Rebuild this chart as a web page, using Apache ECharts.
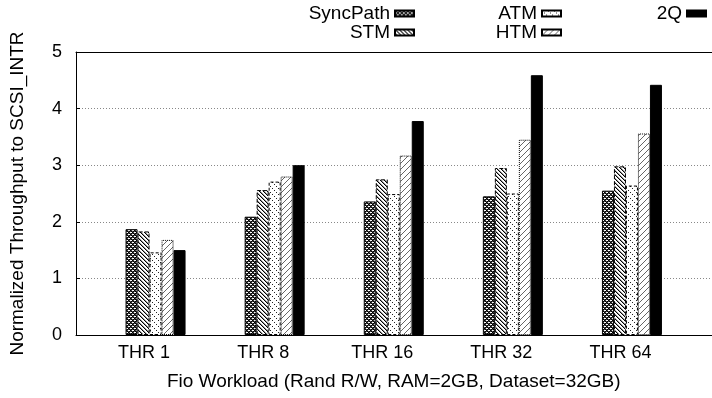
<!DOCTYPE html>
<html>
<head>
<meta charset="utf-8">
<script src="https://cdn.jsdelivr.net/npm/echarts@6/dist/echarts.min.js"></script>
<style>
  html, body { margin: 0; padding: 0; background: #fff; }
  #chart { width: 712px; height: 398px; }
</style>
</head>
<body>
<div id="chart"></div>
<script>
var categories = ['THR 1', 'THR 8', 'THR 16', 'THR 32', 'THR 64'];
var syncPath = [1.87, 2.09, 2.36, 2.45, 2.55];
var stm = [1.83, 2.56, 2.75, 2.95, 2.98];
var atm = [1.46, 2.71, 2.49, 2.50, 2.64];
var htm = [1.68, 2.80, 3.17, 3.45, 3.56];
var twoQ = [1.50, 3.00, 3.78, 4.59, 4.42];
var yTicks = [0, 1, 2, 3, 4, 5];

var FONT = '"Liberation Sans", Arial, sans-serif';

// small canvas tiles used as fill patterns
function makeTile(size, paint) {
    var c = document.createElement('canvas');
    c.width = size;
    c.height = size;
    var ctx = c.getContext('2d');
    ctx.fillStyle = '#fff';
    ctx.fillRect(0, 0, size, size);
    for (var x = 0; x < size; x++) {
        for (var y = 0; y < size; y++) {
            var col = paint(x, y);
            if (col) {
                ctx.fillStyle = col;
                ctx.fillRect(x, y, 1, 1);
            }
        }
    }
    return {image: c, repeat: 'repeat'};
}

var crossTile = makeTile(4, function (x, y) {
    var a = (x + y) % 4, b = (x - y + 4) % 4;
    return (a === 0 || b === 0) ? '#000' : ((a === 1 || b === 1) ? '#444' : null);
});
var backTile = makeTile(4, function (x, y) {
    var d = (x - y + 4) % 4;
    return d === 0 ? '#000' : (d === 1 ? '#999' : null);
});
var dotTile = makeTile(6, function (x, y) {
    return (x === y && x % 2 === 0) ? '#222' : null;
});
var slashTile = makeTile(6, function (x, y) {
    return (x + y) % 6 === 5 ? '#666' : null;
});

function barSeries(name, data, fill, borderType) {
    return {
        name: name,
        type: 'bar',
        xAxisIndex: 0,
        yAxisIndex: 0,
        barWidth: 12,
        barGap: '0%',
        data: data,
        itemStyle: {
            color: fill,
            borderColor: '#000',
            borderWidth: 1,
            borderType: borderType
        },
        emphasis: {disabled: true}
    };
}

function legendItem(name, right, top) {
    return {
        data: [{name: name, icon: 'rect'}],
        right: right,
        top: top,
        padding: 0,
        align: 'right',
        itemWidth: 19,
        itemHeight: 6,
        textStyle: {fontFamily: FONT, fontSize: 19, color: '#000'},
        selectedMode: false
    };
}

var chart = echarts.init(document.getElementById('chart'));
chart.setOption({
    animation: false,
    backgroundColor: '#fff',
    legend: [
        legendItem('SyncPath', 297, 4),
        legendItem('STM', 297, 23),
        legendItem('ATM', 150, 4),
        legendItem('HTM', 150, 23),
        legendItem('2Q', 5, 4)
    ],
    grid: [
        {left: 96, right: 20.5, top: 52, bottom: 63},
        {left: 72, right: -10, top: 52, bottom: 63}
    ],
    xAxis: [
        {
            gridIndex: 0,
            type: 'category',
            data: categories,
            axisLine: {show: false},
            axisTick: {show: false},
            axisLabel: {
                fontFamily: FONT, fontSize: 18, color: '#000',
                margin: 9, padding: [0, 23, 0, 0]
            },
            name: 'Fio Workload (Rand R/W, RAM=2GB, Dataset=32GB)',
            nameLocation: 'middle',
            nameGap: 37,
            nameTextStyle: {fontFamily: FONT, fontSize: 19, color: '#000'}
        },
        {
            gridIndex: 1,
            type: 'value',
            min: 0,
            max: 1,
            axisLine: {show: true, lineStyle: {color: '#000', width: 1}},
            axisTick: {show: false},
            axisLabel: {show: false},
            splitLine: {show: false}
        },
        {
            gridIndex: 1,
            type: 'value',
            position: 'top',
            min: 0,
            max: 1,
            axisLine: {show: true, lineStyle: {color: '#000', width: 1}},
            axisTick: {show: false},
            axisLabel: {show: false},
            splitLine: {show: false}
        }
    ],
    yAxis: [
        {
            gridIndex: 0,
            type: 'value',
            min: yTicks[0],
            max: yTicks[yTicks.length - 1],
            show: false
        },
        {
            gridIndex: 1,
            type: 'value',
            min: yTicks[0],
            max: yTicks[yTicks.length - 1],
            interval: 1,
            axisLine: {show: true, lineStyle: {color: '#000', width: 1}},
            axisTick: {show: true, inside: true, length: 4, lineStyle: {color: '#000'}},
            axisLabel: {fontFamily: FONT, fontSize: 18, color: '#000', margin: 14},
            splitLine: {show: true, lineStyle: {color: '#888', type: [1, 2], width: 1}},
            name: 'Normalized Throughput to SCSI_INTR',
            nameLocation: 'middle',
            nameRotate: 90,
            nameGap: 49,
            nameTextStyle: {fontFamily: FONT, fontSize: 19, color: '#000'}
        }
    ],
    series: [
        barSeries('SyncPath', syncPath, crossTile, 'solid'),
        barSeries('STM', stm, backTile, 'dashed'),
        barSeries('ATM', atm, dotTile, [3, 2]),
        barSeries('HTM', htm, slashTile, 'dotted'),
        barSeries('2Q', twoQ, '#000', 'solid')
    ]
});
</script>
</body>
</html>
